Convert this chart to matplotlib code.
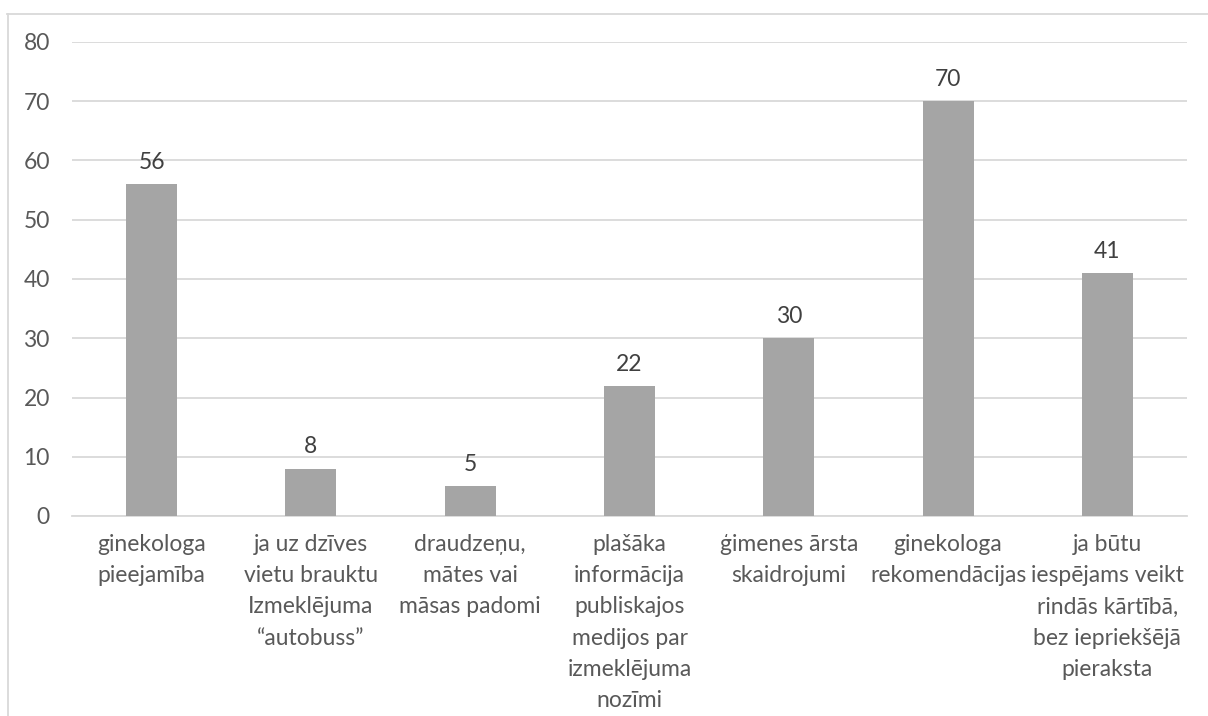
import matplotlib.pyplot as plt
from matplotlib.lines import Line2D

# survey answers and counts
categories = [
    "ginekologa\npieejamība",
    "ja uz dzīves\nvietu brauktu\nIzmeklējuma\n“autobuss”",
    "draudzeņu,\nmātes vai\nmāsas padomi",
    "plašāka\ninformācija\npubliskajos\nmedijos par\nizmeklējuma\nnozīmi",
    "ģimenes ārsta\nskaidrojumi",
    "ginekologa\nrekomendācijas",
    "ja būtu\niespējams veikt\nrindās kārtībā,\nbez iepriekšējā\npieraksta",
]
values = [56, 8, 5, 22, 30, 70, 41]
y_ticks = [0, 10, 20, 30, 40, 50, 60, 70, 80]

plt.rcParams['font.family'] = ['Lato', 'DejaVu Sans']
text_color = '#595959'
fs = 16.5

fig = plt.figure(figsize=(12.08, 7.16), dpi=100)
ax = fig.add_axes([72 / 1208, 1 - 516 / 716, 1115 / 1208, 474 / 716])

x = list(range(len(values)))
bars = ax.bar(x, values, width=0.32, color='#A5A5A5', zorder=3)

for xi, v in zip(x, values):
    ax.annotate(str(v), (xi, v), xytext=(0, 8), textcoords='offset points',
                ha='center', va='bottom', fontsize=fs, color='#404040')

ax.set_xlim(-0.5, len(values) - 0.5)
ax.set_ylim(0, 80)
ax.set_yticks(y_ticks)
ax.set_xticks(x)
ax.set_xticklabels(categories, fontsize=fs, color=text_color, linespacing=1.6)
ax.tick_params(axis='y', labelsize=fs, labelcolor=text_color, length=0, pad=16)
ax.tick_params(axis='x', length=0, pad=13)
ax.grid(axis='y', color='#D9D9D9', linewidth=1.3, zorder=0)
ax.spines[['top', 'right', 'left']].set_visible(False)
ax.spines['bottom'].set_color('#D9D9D9')
ax.spines['bottom'].set_linewidth(1.3)

# outer chart border (top and left edges)
fig.add_artist(Line2D([7 / 1208, 1], [1 - 14 / 716, 1 - 14 / 716],
                      color='#D9D9D9', linewidth=1.3, transform=fig.transFigure))
fig.add_artist(Line2D([8 / 1208, 8 / 1208], [0, 1 - 14 / 716],
                      color='#D9D9D9', linewidth=1.3, transform=fig.transFigure))

fig.savefig('out.png', dpi=100, facecolor='white')
